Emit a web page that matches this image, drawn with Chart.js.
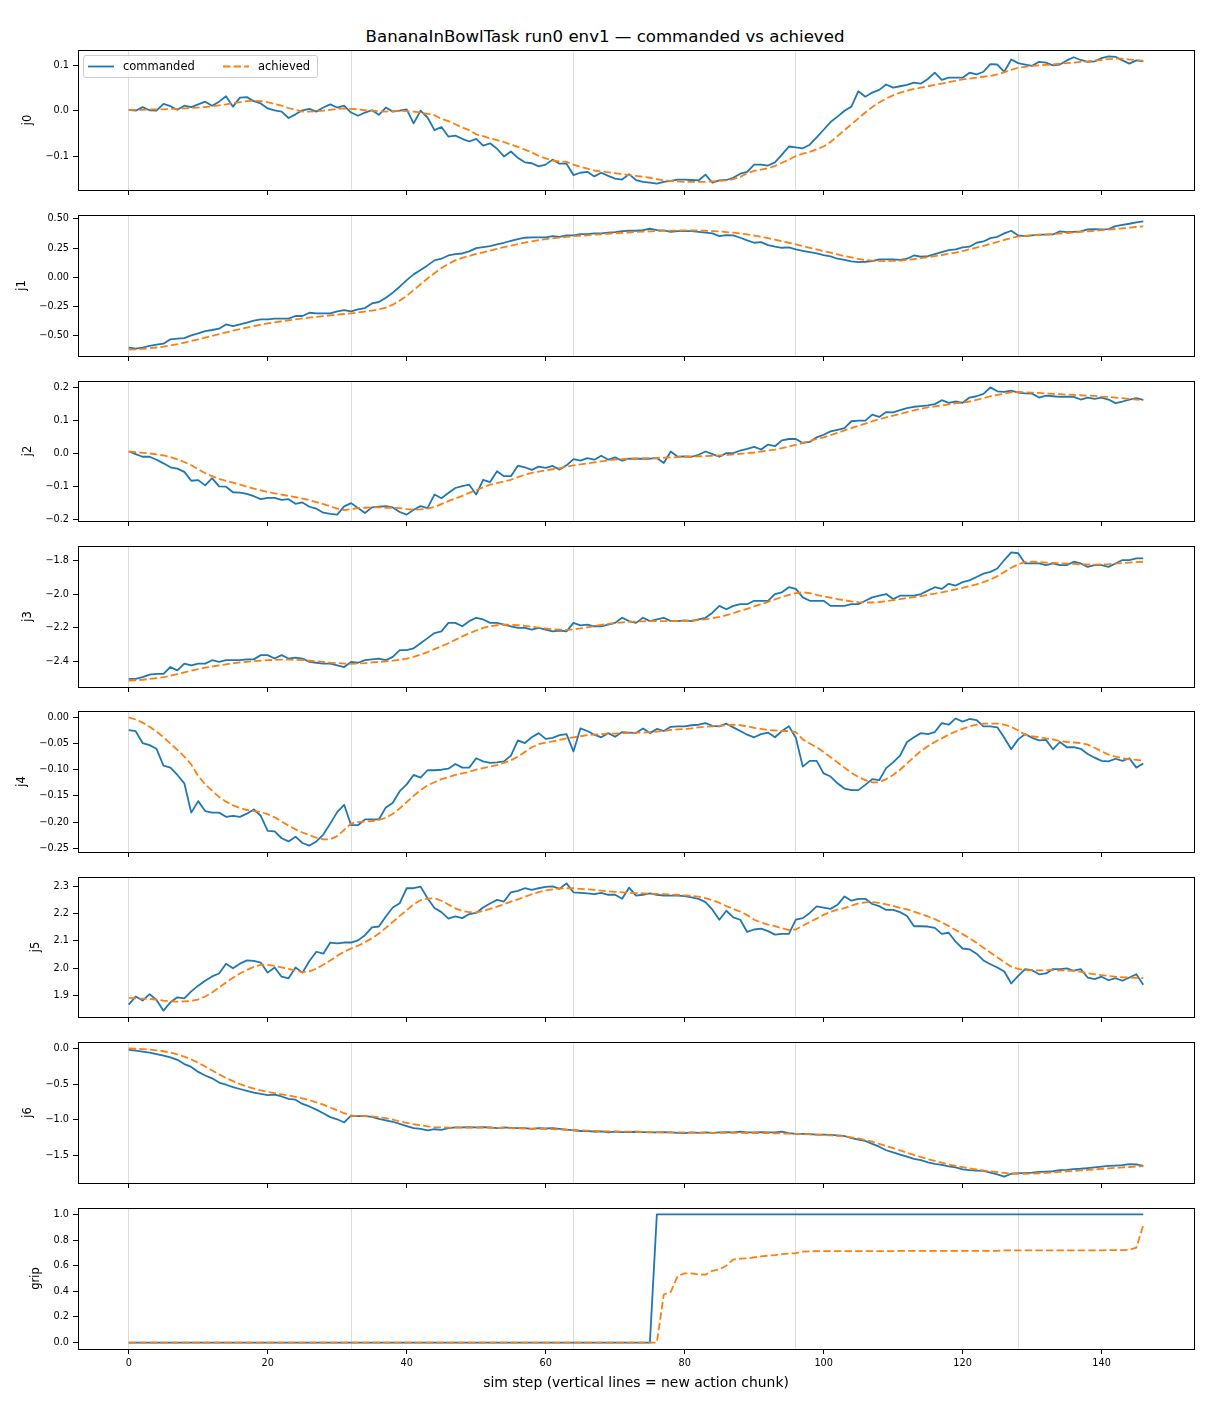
<!DOCTYPE html>
<html>
<head>
<meta charset="utf-8">
<title>BananaInBowlTask run0 env1 — commanded vs achieved</title>
<script src="https://cdn.jsdelivr.net/npm/chart.js@4.4.1/dist/chart.umd.min.js"></script>
<style>
  html, body { margin: 0; padding: 0; background: #fff; }
  body { width: 1210px; height: 1408px; position: relative; overflow: hidden; font-family: 'DejaVu Sans', sans-serif; }
  canvas { position: absolute; left: 0; }
  #title { position: absolute; left: 0; width: 1210px; top: 27px; text-align: center; font-size: 16.6px; line-height: 20px; color: #000; white-space: nowrap; }
  #legend { position: absolute; left: 83px; top: 55px; width: 235px; height: 23px; border: 1px solid #cccccc; border-radius: 3px; background: rgba(255,255,255,0.8); box-sizing: border-box; font-size: 11.5px; color: #000; z-index: 5; }
  .item { position: absolute; top: 0; height: 21px; line-height: 21px; white-space: nowrap; }
  .swatch { position: absolute; top: 0; }
</style>
</head>
<body>
<div id="title">BananaInBowlTask run0 env1 — commanded vs achieved</div>
<div id="legend"></div>
<script>
// sim steps 0..146
const steps = [...Array(147).keys()];
const xTicks = [0, 20, 40, 60, 80, 100, 120, 140];
const chunkStarts = [0, 32, 64, 96, 128];

const j0Cmd = [0.002, 0.0, 0.008, 0.001, 0.0, 0.015, 0.01, 0.002, 0.011, 0.008,
  0.014, 0.02, 0.011, 0.02, 0.032, 0.009, 0.029, 0.03, 0.021, 0.016,
  0.005, 0.001, -0.002, -0.016, -0.008, 0.001, 0.004, -0.002, 0.007, 0.014,
  0.007, 0.011, -0.004, -0.011, -0.004, 0.001, -0.009, 0.007, -0.002, 0.0,
  0.003, -0.028, 0.0, -0.015, -0.043, -0.036, -0.057, -0.055, -0.062, -0.068,
  -0.062, -0.077, -0.072, -0.084, -0.101, -0.09, -0.104, -0.114, -0.116, -0.123,
  -0.119, -0.108, -0.117, -0.117, -0.142, -0.137, -0.135, -0.145, -0.137, -0.144,
  -0.15, -0.152, -0.14, -0.153, -0.157, -0.159, -0.161, -0.157, -0.155, -0.152,
  -0.152, -0.153, -0.154, -0.141, -0.159, -0.154, -0.153, -0.148, -0.139, -0.135,
  -0.119, -0.119, -0.121, -0.114, -0.097, -0.079, -0.081, -0.083, -0.075, -0.059,
  -0.042, -0.025, -0.013, 0.0, 0.009, 0.043, 0.031, 0.04, 0.046, 0.058,
  0.051, 0.054, 0.057, 0.062, 0.06, 0.07, 0.084, 0.068, 0.073, 0.073,
  0.073, 0.084, 0.08, 0.086, 0.103, 0.102, 0.086, 0.113, 0.105, 0.102,
  0.099, 0.108, 0.106, 0.1, 0.102, 0.111, 0.118, 0.112, 0.108, 0.109,
  0.116, 0.12, 0.119, 0.111, 0.104, 0.111, 0.109];
const j0Ach = [0.002, 0.002, 0.002, 0.003, 0.003, 0.003, 0.004, 0.004, 0.005, 0.006,
  0.007, 0.008, 0.01, 0.012, 0.014, 0.017, 0.019, 0.021, 0.022, 0.021,
  0.019, 0.015, 0.011, 0.006, 0.002, -0.002, -0.002, -0.001, 0.0, 0.002,
  0.004, 0.005, 0.004, 0.003, 0.001, 0.0, -0.001, -0.002, -0.001, 0.0,
  -0.001, -0.002, -0.004, -0.007, -0.01, -0.018, -0.023, -0.03, -0.037, -0.043,
  -0.052, -0.056, -0.061, -0.065, -0.069, -0.075, -0.08, -0.086, -0.092, -0.1,
  -0.105, -0.11, -0.112, -0.113, -0.119, -0.124, -0.128, -0.132, -0.134, -0.136,
  -0.138, -0.14, -0.142, -0.144, -0.146, -0.148, -0.151, -0.154, -0.155, -0.156,
  -0.157, -0.157, -0.157, -0.157, -0.156, -0.155, -0.154, -0.151, -0.146, -0.138,
  -0.133, -0.13, -0.127, -0.122, -0.115, -0.108, -0.1, -0.095, -0.091, -0.085,
  -0.079, -0.069, -0.056, -0.043, -0.03, -0.017, -0.004, 0.008, 0.018, 0.027,
  0.034, 0.04, 0.044, 0.048, 0.051, 0.054, 0.057, 0.06, 0.063, 0.066,
  0.069, 0.071, 0.073, 0.075, 0.077, 0.08, 0.085, 0.09, 0.095, 0.097,
  0.099, 0.1, 0.101, 0.102, 0.104, 0.105, 0.106, 0.108, 0.109, 0.111,
  0.112, 0.114, 0.115, 0.115, 0.113, 0.112, 0.11];

const j1Cmd = [-0.603, -0.612, -0.603, -0.589, -0.578, -0.569, -0.532, -0.526, -0.521, -0.498,
  -0.481, -0.461, -0.452, -0.441, -0.404, -0.418, -0.404, -0.389, -0.372, -0.361,
  -0.361, -0.355, -0.355, -0.355, -0.332, -0.332, -0.304, -0.309, -0.309, -0.309,
  -0.292, -0.281, -0.292, -0.275, -0.264, -0.224, -0.212, -0.175, -0.132, -0.081,
  -0.024, 0.025, 0.062, 0.102, 0.145, 0.159, 0.187, 0.199, 0.204, 0.222,
  0.25, 0.259, 0.267, 0.282, 0.296, 0.313, 0.327, 0.339, 0.342, 0.342,
  0.342, 0.353, 0.347, 0.359, 0.359, 0.37, 0.37, 0.376, 0.376, 0.382,
  0.387, 0.396, 0.399, 0.399, 0.404, 0.416, 0.404, 0.402, 0.39, 0.396,
  0.396, 0.396, 0.39, 0.382, 0.376, 0.353, 0.362, 0.359, 0.339, 0.316,
  0.296, 0.302, 0.276, 0.262, 0.253, 0.256, 0.239, 0.227, 0.216, 0.204,
  0.19, 0.179, 0.159, 0.15, 0.136, 0.13, 0.133, 0.139, 0.153, 0.153,
  0.153, 0.15, 0.159, 0.187, 0.176, 0.182, 0.199, 0.216, 0.233, 0.239,
  0.256, 0.262, 0.296, 0.307, 0.336, 0.347, 0.376, 0.399, 0.359, 0.353,
  0.359, 0.365, 0.365, 0.367, 0.393, 0.387, 0.39, 0.393, 0.41, 0.413,
  0.41, 0.413, 0.439, 0.45, 0.459, 0.47, 0.479];
const j1Ach = [-0.62, -0.618, -0.614, -0.608, -0.602, -0.595, -0.585, -0.574, -0.561, -0.547,
  -0.533, -0.518, -0.503, -0.488, -0.473, -0.458, -0.444, -0.431, -0.419, -0.407,
  -0.396, -0.386, -0.377, -0.369, -0.361, -0.353, -0.346, -0.339, -0.333, -0.327,
  -0.321, -0.315, -0.309, -0.302, -0.294, -0.285, -0.275, -0.26, -0.235, -0.2,
  -0.16, -0.11, -0.06, -0.01, 0.035, 0.08, 0.115, 0.145, 0.167, 0.183,
  0.2, 0.214, 0.229, 0.244, 0.259, 0.272, 0.285, 0.298, 0.308, 0.318,
  0.328, 0.334, 0.34, 0.346, 0.352, 0.356, 0.36, 0.365, 0.369, 0.373,
  0.377, 0.381, 0.384, 0.388, 0.391, 0.394, 0.396, 0.398, 0.4, 0.401,
  0.402, 0.402, 0.401, 0.399, 0.396, 0.393, 0.388, 0.382, 0.376, 0.367,
  0.357, 0.347, 0.335, 0.322, 0.309, 0.296, 0.282, 0.268, 0.253, 0.239,
  0.225, 0.211, 0.196, 0.182, 0.17, 0.158, 0.148, 0.143, 0.14, 0.139,
  0.14, 0.143, 0.149, 0.156, 0.164, 0.172, 0.181, 0.191, 0.201, 0.212,
  0.225, 0.24, 0.255, 0.27, 0.286, 0.303, 0.32, 0.337, 0.35, 0.355,
  0.359, 0.363, 0.367, 0.371, 0.375, 0.379, 0.384, 0.389, 0.394, 0.399,
  0.404, 0.409, 0.414, 0.419, 0.425, 0.431, 0.437];

const j2Cmd = [0.006, -0.002, -0.01, -0.01, -0.019, -0.03, -0.042, -0.046, -0.056, -0.083,
  -0.081, -0.097, -0.075, -0.1, -0.101, -0.118, -0.119, -0.123, -0.13, -0.139,
  -0.135, -0.135, -0.141, -0.139, -0.153, -0.149, -0.162, -0.168, -0.18, -0.184,
  -0.186, -0.161, -0.151, -0.166, -0.181, -0.164, -0.162, -0.16, -0.164, -0.178,
  -0.186, -0.171, -0.16, -0.166, -0.125, -0.136, -0.12, -0.105, -0.099, -0.095,
  -0.125, -0.08, -0.087, -0.054, -0.069, -0.069, -0.037, -0.042, -0.05, -0.04,
  -0.044, -0.038, -0.049, -0.036, -0.017, -0.022, -0.014, -0.019, -0.007, -0.019,
  -0.012, -0.022, -0.016, -0.016, -0.016, -0.016, -0.014, -0.029, 0.006, -0.01,
  -0.009, -0.01, -0.004, 0.006, -0.002, -0.01, 0.001, 0.001, 0.009, 0.014,
  0.02, 0.012, 0.027, 0.022, 0.04, 0.044, 0.044, 0.032, 0.035, 0.049,
  0.057, 0.067, 0.072, 0.077, 0.098, 0.1, 0.1, 0.118, 0.111, 0.126,
  0.125, 0.132, 0.138, 0.142, 0.144, 0.146, 0.15, 0.162, 0.154, 0.158,
  0.154, 0.17, 0.174, 0.181, 0.201, 0.189, 0.187, 0.191, 0.185, 0.183,
  0.182, 0.17, 0.176, 0.174, 0.172, 0.173, 0.172, 0.164, 0.17, 0.166,
  0.17, 0.164, 0.153, 0.158, 0.164, 0.168, 0.163];
const j2Ach = [0.006, 0.004, 0.002, 0.0, -0.003, -0.006, -0.011, -0.018, -0.026, -0.036,
  -0.048, -0.06, -0.069, -0.077, -0.083, -0.089, -0.095, -0.101, -0.107, -0.112,
  -0.117, -0.121, -0.125, -0.129, -0.133, -0.137, -0.142, -0.148, -0.154, -0.161,
  -0.168, -0.172, -0.169, -0.166, -0.165, -0.164, -0.164, -0.165, -0.165, -0.166,
  -0.169, -0.171, -0.17, -0.168, -0.163, -0.154, -0.145, -0.137, -0.129, -0.12,
  -0.112, -0.103, -0.095, -0.09, -0.085, -0.08, -0.072, -0.065, -0.059, -0.055,
  -0.051, -0.048, -0.045, -0.04, -0.036, -0.033, -0.03, -0.027, -0.024, -0.021,
  -0.019, -0.017, -0.016, -0.015, -0.015, -0.014, -0.014, -0.013, -0.012, -0.011,
  -0.01, -0.01, -0.009, -0.008, -0.007, -0.006, -0.005, -0.003, -0.001, 0.001,
  0.003, 0.006, 0.009, 0.012, 0.016, 0.021, 0.026, 0.032, 0.038, 0.044,
  0.049, 0.056, 0.063, 0.07, 0.077, 0.084, 0.091, 0.098, 0.104, 0.11,
  0.115, 0.12, 0.126, 0.131, 0.136, 0.14, 0.143, 0.146, 0.149, 0.152,
  0.155, 0.158, 0.163, 0.168, 0.174, 0.178, 0.182, 0.186, 0.187, 0.186,
  0.185, 0.184, 0.182, 0.181, 0.18, 0.179, 0.178, 0.177, 0.176, 0.175,
  0.173, 0.172, 0.17, 0.168, 0.166, 0.164, 0.162];

const j3Cmd = [-2.5, -2.5, -2.49, -2.475, -2.47, -2.47, -2.43, -2.45, -2.41, -2.42,
  -2.41, -2.41, -2.39, -2.4, -2.39, -2.39, -2.39, -2.385, -2.385, -2.36,
  -2.36, -2.38, -2.36, -2.38, -2.375, -2.38, -2.4, -2.405, -2.41, -2.41,
  -2.42, -2.43, -2.4, -2.405, -2.39, -2.385, -2.38, -2.39, -2.37, -2.33,
  -2.33, -2.32, -2.29, -2.26, -2.23, -2.22, -2.17, -2.17, -2.19, -2.16,
  -2.14, -2.15, -2.17, -2.17, -2.18, -2.19, -2.2, -2.2, -2.21, -2.2,
  -2.21, -2.22, -2.215, -2.22, -2.17, -2.185, -2.18, -2.19, -2.19, -2.18,
  -2.17, -2.14, -2.16, -2.17, -2.14, -2.16, -2.15, -2.14, -2.16, -2.16,
  -2.155, -2.16, -2.15, -2.14, -2.11, -2.07, -2.09, -2.07, -2.06, -2.06,
  -2.04, -2.04, -2.04, -2.0, -1.99, -1.96, -1.97, -2.02, -2.04, -2.04,
  -2.04, -2.07, -2.07, -2.07, -2.06, -2.06, -2.04, -2.02, -2.01, -2.0,
  -2.03, -2.01, -2.01, -2.01, -2.0, -1.98, -1.96, -1.97, -1.94, -1.95,
  -1.93, -1.92, -1.9, -1.88, -1.87, -1.85, -1.8, -1.755, -1.76, -1.82,
  -1.82, -1.82, -1.83, -1.82, -1.83, -1.83, -1.81, -1.82, -1.84, -1.83,
  -1.83, -1.84, -1.82, -1.8, -1.8, -1.79, -1.79];
const j3Ach = [-2.51, -2.508, -2.505, -2.5, -2.495, -2.49, -2.482, -2.472, -2.462, -2.452,
  -2.442, -2.434, -2.427, -2.42, -2.414, -2.408, -2.403, -2.399, -2.396, -2.393,
  -2.39, -2.388, -2.387, -2.387, -2.388, -2.39, -2.393, -2.396, -2.4, -2.404,
  -2.407, -2.41, -2.411, -2.41, -2.407, -2.403, -2.4, -2.397, -2.393, -2.387,
  -2.38, -2.37, -2.357, -2.342, -2.325, -2.308, -2.29, -2.27, -2.25, -2.232,
  -2.215, -2.2, -2.19, -2.184, -2.181, -2.181, -2.184, -2.188, -2.193, -2.198,
  -2.203, -2.207, -2.21, -2.211, -2.209, -2.203, -2.196, -2.189, -2.182, -2.176,
  -2.171, -2.167, -2.164, -2.162, -2.161, -2.16, -2.16, -2.16, -2.16, -2.159,
  -2.158, -2.156, -2.153, -2.149, -2.143, -2.135, -2.125, -2.113, -2.1, -2.087,
  -2.073, -2.06, -2.046, -2.032, -2.018, -2.005, -1.995, -1.99, -1.995, -2.005,
  -2.014, -2.022, -2.03, -2.037, -2.043, -2.048, -2.05, -2.05, -2.047, -2.042,
  -2.036, -2.03, -2.024, -2.018, -2.012, -2.005, -1.998, -1.99, -1.982, -1.973,
  -1.964, -1.954, -1.943, -1.93, -1.915, -1.895, -1.87, -1.845, -1.825, -1.812,
  -1.81, -1.812, -1.815, -1.817, -1.819, -1.821, -1.823, -1.825, -1.826, -1.827,
  -1.826, -1.824, -1.821, -1.818, -1.815, -1.812, -1.81];

const j4Cmd = [-0.0245, -0.0264, -0.049, -0.053, -0.06, -0.092, -0.096, -0.11, -0.126, -0.182,
  -0.16, -0.179, -0.182, -0.182, -0.19, -0.188, -0.19, -0.184, -0.176, -0.188,
  -0.217, -0.218, -0.231, -0.237, -0.228, -0.24, -0.245, -0.237, -0.224, -0.203,
  -0.181, -0.167, -0.206, -0.206, -0.195, -0.195, -0.195, -0.172, -0.163, -0.141,
  -0.128, -0.11, -0.115, -0.101, -0.101, -0.1, -0.098, -0.089, -0.096, -0.096,
  -0.078, -0.084, -0.087, -0.086, -0.084, -0.073, -0.044, -0.049, -0.038, -0.03,
  -0.041, -0.039, -0.034, -0.032, -0.065, -0.021, -0.026, -0.033, -0.038, -0.03,
  -0.037, -0.028, -0.029, -0.03, -0.021, -0.03, -0.022, -0.026, -0.018, -0.017,
  -0.017, -0.015, -0.014, -0.011, -0.016, -0.017, -0.012, -0.019, -0.026, -0.033,
  -0.038, -0.032, -0.029, -0.038, -0.026, -0.017, -0.039, -0.094, -0.083, -0.083,
  -0.107, -0.113, -0.126, -0.136, -0.139, -0.139, -0.129, -0.118, -0.12, -0.097,
  -0.086, -0.073, -0.047, -0.038, -0.03, -0.032, -0.028, -0.011, -0.014, -0.002,
  -0.008, -0.003, -0.005, -0.017, -0.017, -0.019, -0.039, -0.061, -0.042, -0.032,
  -0.039, -0.044, -0.043, -0.061, -0.047, -0.057, -0.057, -0.06, -0.07, -0.077,
  -0.083, -0.084, -0.079, -0.083, -0.078, -0.096, -0.088];
const j4Ach = [0.0, -0.004, -0.01, -0.018, -0.027, -0.038, -0.05, -0.062, -0.075, -0.09,
  -0.112, -0.128, -0.14, -0.152, -0.161, -0.168, -0.173, -0.177, -0.179, -0.181,
  -0.185, -0.191, -0.199, -0.207, -0.214, -0.22, -0.225, -0.23, -0.233, -0.233,
  -0.227, -0.215, -0.203, -0.2, -0.199, -0.198, -0.196, -0.192, -0.184, -0.174,
  -0.162, -0.15, -0.139, -0.13, -0.124, -0.118, -0.114, -0.11, -0.107, -0.104,
  -0.1, -0.097, -0.094, -0.091, -0.087, -0.082, -0.075, -0.066, -0.057, -0.051,
  -0.048, -0.046, -0.043, -0.04, -0.038, -0.036, -0.034, -0.033, -0.032, -0.031,
  -0.031, -0.03, -0.03, -0.029, -0.029, -0.028, -0.027, -0.026, -0.024, -0.023,
  -0.022, -0.021, -0.019, -0.018, -0.017, -0.016, -0.015, -0.014, -0.015, -0.017,
  -0.02, -0.022, -0.024, -0.025, -0.026, -0.026, -0.028, -0.042, -0.05, -0.057,
  -0.066, -0.076, -0.086, -0.096, -0.106, -0.114, -0.12, -0.124, -0.124, -0.118,
  -0.11, -0.1, -0.088, -0.076, -0.064, -0.055, -0.047, -0.04, -0.033, -0.027,
  -0.022, -0.017, -0.014, -0.012, -0.012, -0.012, -0.014, -0.018, -0.025, -0.033,
  -0.036, -0.038, -0.04, -0.042, -0.045, -0.047, -0.048, -0.049, -0.052, -0.058,
  -0.065, -0.071, -0.075, -0.078, -0.08, -0.081, -0.083];

const j5Cmd = [1.865, 1.895, 1.88, 1.904, 1.882, 1.843, 1.874, 1.892, 1.888, 1.914,
  1.935, 1.953, 1.969, 1.98, 2.016, 1.999, 2.016, 2.028, 2.026, 2.02,
  1.983, 2.002, 1.968, 1.962, 2.002, 1.983, 2.026, 2.06, 2.053, 2.094,
  2.091, 2.094, 2.094, 2.102, 2.121, 2.15, 2.153, 2.19, 2.223, 2.239,
  2.294, 2.294, 2.3, 2.257, 2.221, 2.206, 2.182, 2.19, 2.184, 2.199,
  2.203, 2.223, 2.238, 2.251, 2.245, 2.279, 2.284, 2.294, 2.288, 2.294,
  2.299, 2.301, 2.292, 2.312, 2.279, 2.277, 2.275, 2.272, 2.277, 2.27,
  2.27, 2.255, 2.296, 2.267, 2.27, 2.275, 2.27, 2.267, 2.267, 2.267,
  2.265, 2.26, 2.255, 2.243, 2.215, 2.178, 2.211, 2.187, 2.178, 2.133,
  2.142, 2.145, 2.136, 2.123, 2.126, 2.126, 2.178, 2.184, 2.203, 2.227,
  2.223, 2.218, 2.233, 2.264, 2.248, 2.255, 2.255, 2.236, 2.228, 2.214,
  2.214, 2.206, 2.192, 2.154, 2.154, 2.153, 2.148, 2.126, 2.13, 2.097,
  2.072, 2.069, 2.053, 2.028, 2.014, 2.002, 1.987, 1.943, 1.971, 1.996,
  1.992, 1.977, 1.98, 1.996, 1.996, 1.999, 1.99, 1.996, 1.965, 1.959,
  1.968, 1.955, 1.963, 1.953, 1.965, 1.977, 1.938];
const j5Ach = [1.89, 1.888, 1.887, 1.886, 1.884, 1.88, 1.877, 1.876, 1.877, 1.879,
  1.884, 1.895, 1.91, 1.928, 1.947, 1.964, 1.98, 1.993, 2.004, 2.012,
  2.012, 2.008, 2.002, 1.997, 1.99, 1.985, 1.988, 1.998, 2.012, 2.028,
  2.045, 2.06, 2.072, 2.082, 2.095, 2.11, 2.127, 2.148, 2.17, 2.192,
  2.213, 2.235, 2.25, 2.256, 2.257, 2.248, 2.234, 2.22, 2.21, 2.206,
  2.205, 2.21, 2.218, 2.226, 2.235, 2.245, 2.253, 2.262, 2.272, 2.28,
  2.286, 2.29, 2.293, 2.294, 2.294, 2.292, 2.29, 2.288, 2.285, 2.283,
  2.281, 2.279, 2.277, 2.276, 2.275, 2.274, 2.273, 2.272, 2.271, 2.27,
  2.268, 2.266, 2.263, 2.258, 2.25, 2.24, 2.228, 2.218, 2.208, 2.195,
  2.178, 2.168, 2.16, 2.154, 2.147, 2.14, 2.142, 2.156, 2.17, 2.182,
  2.196, 2.207, 2.215, 2.221, 2.23, 2.238, 2.242, 2.243, 2.24, 2.235,
  2.229, 2.222, 2.216, 2.208, 2.199, 2.19, 2.18, 2.168, 2.155, 2.14,
  2.125, 2.11, 2.093, 2.075, 2.057, 2.04, 2.022, 2.005, 1.997, 1.992,
  1.991, 1.991, 1.992, 1.992, 1.991, 1.991, 1.99, 1.986, 1.981, 1.977,
  1.974, 1.971, 1.968, 1.966, 1.965, 1.964, 1.963];

const j6Cmd = [-0.02, -0.03, -0.045, -0.06, -0.08, -0.1, -0.125, -0.16, -0.22, -0.26,
  -0.33, -0.38, -0.42, -0.48, -0.51, -0.545, -0.57, -0.595, -0.62, -0.64,
  -0.655, -0.65, -0.675, -0.71, -0.72, -0.78, -0.815, -0.86, -0.91, -0.965,
  -0.995, -1.04, -0.945, -0.95, -0.95, -0.96, -0.99, -1.01, -1.03, -1.06,
  -1.09, -1.12, -1.13, -1.15, -1.135, -1.145, -1.12, -1.11, -1.11, -1.105,
  -1.11, -1.105, -1.11, -1.12, -1.11, -1.115, -1.12, -1.12, -1.13, -1.12,
  -1.125, -1.12, -1.13, -1.14, -1.15, -1.16, -1.16, -1.17, -1.165, -1.18,
  -1.17, -1.175, -1.175, -1.17, -1.175, -1.18, -1.18, -1.175, -1.18, -1.185,
  -1.19, -1.18, -1.185, -1.18, -1.185, -1.18, -1.175, -1.18, -1.17, -1.18,
  -1.18, -1.175, -1.18, -1.18, -1.17, -1.19, -1.2, -1.2, -1.205, -1.21,
  -1.21, -1.215, -1.22, -1.23, -1.26, -1.28, -1.3, -1.34, -1.38, -1.43,
  -1.46, -1.49, -1.52, -1.55, -1.57, -1.6, -1.62, -1.635, -1.655, -1.67,
  -1.7, -1.71, -1.715, -1.72, -1.745, -1.77, -1.8, -1.76, -1.75, -1.75,
  -1.745, -1.735, -1.73, -1.725, -1.71, -1.705, -1.695, -1.69, -1.68, -1.67,
  -1.66, -1.65, -1.645, -1.64, -1.625, -1.63, -1.65];
const j6Ach = [0.0, -0.005, -0.01, -0.017, -0.027, -0.04, -0.058, -0.085, -0.115, -0.155,
  -0.2, -0.255, -0.31, -0.365, -0.415, -0.46, -0.5, -0.535, -0.565, -0.59,
  -0.61, -0.628, -0.645, -0.662, -0.68, -0.702, -0.728, -0.758, -0.79, -0.83,
  -0.87, -0.91, -0.945, -0.948, -0.95, -0.955, -0.965, -0.98, -1.0, -1.025,
  -1.045, -1.065, -1.08, -1.095, -1.105, -1.11, -1.112, -1.113, -1.113, -1.112,
  -1.112, -1.113, -1.114, -1.115, -1.117, -1.12, -1.122, -1.125, -1.127, -1.129,
  -1.131, -1.134, -1.138, -1.142, -1.146, -1.15, -1.155, -1.158, -1.161, -1.164,
  -1.166, -1.168, -1.169, -1.17, -1.172, -1.174, -1.176, -1.178, -1.179, -1.18,
  -1.181, -1.182, -1.183, -1.184, -1.185, -1.186, -1.187, -1.187, -1.187, -1.188,
  -1.188, -1.188, -1.19, -1.192, -1.195, -1.198, -1.2, -1.204, -1.208, -1.212,
  -1.217, -1.222, -1.228, -1.235, -1.248, -1.265, -1.285, -1.31, -1.34, -1.37,
  -1.4, -1.432, -1.465, -1.495, -1.525, -1.555, -1.58, -1.605, -1.63, -1.65,
  -1.668, -1.684, -1.7, -1.714, -1.727, -1.738, -1.748, -1.757, -1.763, -1.762,
  -1.758, -1.753, -1.747, -1.741, -1.735, -1.728, -1.72, -1.713, -1.706, -1.699,
  -1.692, -1.685, -1.678, -1.671, -1.665, -1.659, -1.653];

const gripCmd = [0, 0, 0, 0, 0, 0, 0, 0, 0, 0,
  0, 0, 0, 0, 0, 0, 0, 0, 0, 0,
  0, 0, 0, 0, 0, 0, 0, 0, 0, 0,
  0, 0, 0, 0, 0, 0, 0, 0, 0, 0,
  0, 0, 0, 0, 0, 0, 0, 0, 0, 0,
  0, 0, 0, 0, 0, 0, 0, 0, 0, 0,
  0, 0, 0, 0, 0, 0, 0, 0, 0, 0,
  0, 0, 0, 0, 0, 0, 1, 1, 1, 1,
  1, 1, 1, 1, 1, 1, 1, 1, 1, 1,
  1, 1, 1, 1, 1, 1, 1, 1, 1, 1,
  1, 1, 1, 1, 1, 1, 1, 1, 1, 1,
  1, 1, 1, 1, 1, 1, 1, 1, 1, 1,
  1, 1, 1, 1, 1, 1, 1, 1, 1, 1,
  1, 1, 1, 1, 1, 1, 1, 1, 1, 1,
  1, 1, 1, 1, 1, 1, 1];
const gripAch = [0, 0, 0, 0, 0, 0, 0, 0, 0, 0,
  0, 0, 0, 0, 0, 0, 0, 0, 0, 0,
  0, 0, 0, 0, 0, 0, 0, 0, 0, 0,
  0, 0, 0, 0, 0, 0, 0, 0, 0, 0,
  0, 0, 0, 0, 0, 0, 0, 0, 0, 0,
  0, 0, 0, 0, 0, 0, 0, 0, 0, 0,
  0, 0, 0, 0, 0, 0, 0, 0, 0, 0,
  0, 0, 0, 0, 0, 0, 0, 0.375, 0.396, 0.52,
  0.54, 0.54, 0.532, 0.53, 0.56, 0.572, 0.6, 0.648, 0.655, 0.657,
  0.665, 0.672, 0.678, 0.683, 0.69, 0.695, 0.697, 0.71, 0.712, 0.713,
  0.713, 0.713, 0.713, 0.713, 0.713, 0.713, 0.713, 0.713, 0.713, 0.713,
  0.713, 0.716, 0.716, 0.716, 0.716, 0.716, 0.716, 0.716, 0.716, 0.716,
  0.716, 0.716, 0.716, 0.716, 0.716, 0.716, 0.72, 0.72, 0.72, 0.72,
  0.72, 0.72, 0.72, 0.72, 0.72, 0.72, 0.72, 0.72, 0.72, 0.72,
  0.72, 0.722, 0.722, 0.722, 0.724, 0.74, 0.916];

const jointNames = ['j0', 'j1', 'j2', 'j3', 'j4', 'j5', 'j6', 'grip'];
const j0Ticks = [-0.1, 0.0, 0.1];
const j1Ticks = [-0.5, -0.25, 0.0, 0.25, 0.5];
const j2Ticks = [-0.2, -0.1, 0.0, 0.1, 0.2];
const j3Ticks = [-2.4, -2.2, -2.0, -1.8];
const j4Ticks = [-0.25, -0.2, -0.15, -0.1, -0.05, 0.0];
const j5Ticks = [1.9, 2.0, 2.1, 2.2, 2.3];
const j6Ticks = [-1.5, -1.0, -0.5, 0.0];
const gripTicks = [0.0, 0.2, 0.4, 0.6, 0.8, 1.0];
const tickDecimals = [1, 2, 1, 1, 2, 1, 1, 1];

const cmdSeries = [j0Cmd, j1Cmd, j2Cmd, j3Cmd, j4Cmd, j5Cmd, j6Cmd, gripCmd];
const achSeries = [j0Ach, j1Ach, j2Ach, j3Ach, j4Ach, j5Ach, j6Ach, gripAch];
const tickSets = [j0Ticks, j1Ticks, j2Ticks, j3Ticks, j4Ticks, j5Ticks, j6Ticks, gripTicks];

// layout (pixels)
const panelTops = [50, 215, 381, 546, 711, 877, 1042, 1208];
const panelBottoms = [190, 356, 521, 687, 852, 1017, 1183, 1349];
const axisLeft = 78, axisRightPad = 16;
const BLUE = '#1f77b4', ORANGE = '#ff7f0e';
const TICK_FONT = 9.7, LABEL_FONT = 11.5;

Chart.defaults.font.family = "'DejaVu Sans', sans-serif";
Chart.defaults.color = '#000';

const xMin = steps[0] - (steps[steps.length - 1] - steps[0]) * 0.05;
const xMax = steps[steps.length - 1] + (steps[steps.length - 1] - steps[0]) * 0.05;

function fmt(v, dec) {
  let s = (Math.abs(v) < 1e-9 ? 0 : v).toFixed(dec);
  return s.replace('-', '\u2212');
}

const measure = document.createElement('canvas').getContext('2d');
measure.font = TICK_FONT + "px 'DejaVu Sans'";

// draw the four spines on top, like matplotlib
const framePlugin = {
  id: 'frame',
  afterDatasetsDraw(chart) {
    const { ctx, chartArea: a } = chart;
    ctx.save();
    ctx.strokeStyle = '#000';
    ctx.lineWidth = 1;
    ctx.strokeRect(Math.round(a.left) + 0.5, Math.round(a.top) + 0.5,
      Math.round(a.right - a.left), Math.round(a.bottom - a.top));
    ctx.restore();
  }
};

jointNames.forEach((name, i) => {
  const last = i === jointNames.length - 1;
  const axH = last ? 1408 - panelBottoms[i] : 12;
  const canvas = document.createElement('canvas');
  canvas.width = 1210;
  canvas.height = panelBottoms[i] - panelTops[i] + 5 + axH;
  canvas.style.top = (panelTops[i] - 5) + 'px';
  document.body.appendChild(canvas);

  const cmd = cmdSeries[i], ach = achSeries[i], ticks = tickSets[i], dec = tickDecimals[i];
  const all = cmd.concat(ach);
  const lo = Math.min(...all), hi = Math.max(...all), m = (hi - lo) * 0.05;

  const maxW = Math.max(...ticks.map(v => measure.measureText(fmt(v, dec)).width));
  const labelCenter = 51.5 - maxW;
  const labelPad = labelCenter - LABEL_FONT * 1.2 / 2;

  new Chart(canvas, {
    type: 'line',
    data: {
      labels: steps,
      datasets: [
        { label: 'commanded', data: cmd, borderColor: BLUE, backgroundColor: BLUE,
          borderWidth: 1.8, pointRadius: 0, tension: 0, borderJoinStyle: 'round',
          xAxisID: 'x', yAxisID: 'y', order: 1 },
        { label: 'achieved', data: ach, borderColor: ORANGE, backgroundColor: ORANGE,
          borderWidth: 1.8, borderDash: [7.4, 3.2], pointRadius: 0, tension: 0, borderJoinStyle: 'round',
          xAxisID: 'x', yAxisID: 'y', order: 0 }
      ]
    },
    options: {
      responsive: false,
      animation: false,
      events: [],
      layout: { padding: { top: 5, right: axisRightPad, left: 0, bottom: 0 } },
      plugins: { legend: { display: false }, tooltip: { enabled: false }, title: { display: false } },
      scales: {
        x: {
          type: 'linear', axis: 'x', position: 'bottom', min: xMin, max: xMax,
          afterBuildTicks: s => { s.ticks = xTicks.map(v => ({ value: v })); },
          afterFit: s => { s.height = axH; s.paddingLeft = 0; s.paddingRight = 0; },
          grid: { drawOnChartArea: false, drawTicks: true, tickLength: 5, color: '#000', lineWidth: 1 },
          border: { display: true, color: '#000', width: 1 },
          ticks: { display: last, autoSkip: false, maxRotation: 0, padding: 4, color: '#000',
            font: { size: TICK_FONT }, callback: v => String(v) },
          title: { display: last, text: 'sim step (vertical lines = new action chunk)', color: '#000',
            font: { size: 13.9 }, padding: { top: 0, bottom: 16.2 } }
        },
        chunks: {
          type: 'linear', axis: 'x', position: 'bottom', min: xMin, max: xMax,
          afterBuildTicks: s => { s.ticks = chunkStarts.map(v => ({ value: v })); },
          afterFit: s => { s.height = 0; s.paddingLeft = 0; s.paddingRight = 0; },
          grid: { drawOnChartArea: true, drawTicks: false, color: '#dcdcdc', lineWidth: 1 },
          border: { display: false },
          ticks: { display: false }
        },
        y: {
          type: 'linear', position: 'left', min: lo - m, max: hi + m,
          afterBuildTicks: s => { s.ticks = ticks.map(v => ({ value: v })); },
          afterFit: s => { s.width = axisLeft; s.paddingTop = 0; s.paddingBottom = 0; },
          grid: { drawOnChartArea: false, drawTicks: true, tickLength: 5, color: '#000', lineWidth: 1 },
          border: { display: true, color: '#000', width: 1 },
          ticks: { padding: 4, color: '#000', font: { size: TICK_FONT }, callback: v => fmt(v, dec) },
          title: { display: true, text: name, color: '#000', font: { size: LABEL_FONT },
            padding: { top: labelPad, bottom: 0 } }
        }
      }
    },
    plugins: [framePlugin]
  });
});

// legend (matplotlib-style box inside the first panel)
const legendItems = [
  { label: 'commanded', color: BLUE, dash: '', sx: 4, tx: 39 },
  { label: 'achieved', color: ORANGE, dash: '7.4 3.2', sx: 139, tx: 174 }
];
const legend = document.getElementById('legend');
legendItems.forEach(it => {
  const sw = document.createElementNS('http://www.w3.org/2000/svg', 'svg');
  sw.setAttribute('class', 'swatch');
  sw.setAttribute('width', '27');
  sw.setAttribute('height', '21');
  sw.style.left = it.sx + 'px';
  const ln = document.createElementNS('http://www.w3.org/2000/svg', 'line');
  ln.setAttribute('x1', '0'); ln.setAttribute('x2', '26');
  ln.setAttribute('y1', '10.5'); ln.setAttribute('y2', '10.5');
  ln.setAttribute('stroke', it.color);
  ln.setAttribute('stroke-width', '1.8');
  if (it.dash) ln.setAttribute('stroke-dasharray', it.dash);
  sw.appendChild(ln);
  legend.appendChild(sw);
  const tx = document.createElement('div');
  tx.className = 'item';
  tx.style.left = it.tx + 'px';
  tx.textContent = it.label;
  legend.appendChild(tx);
});
</script>
</body>
</html>
